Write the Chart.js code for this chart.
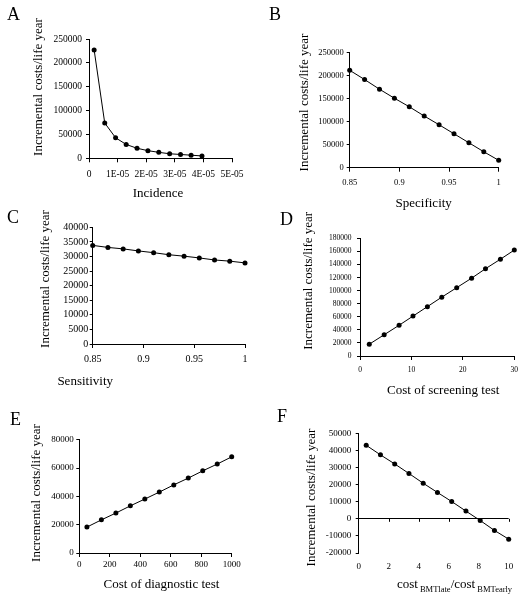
<!DOCTYPE html>
<html>
<head>
<meta charset="utf-8">
<script src="https://cdn.jsdelivr.net/npm/chart.js@4.4.1/dist/chart.umd.min.js"></script>
<style>
  body { margin: 0; background: #fff; }
  #wrap { position: relative; width: 525px; height: 600px; }
  canvas { position: absolute; }
</style>
</head>
<body>
<div id="wrap">
  <canvas id="panelA" width="262" height="200" style="left:0;top:0"></canvas>
  <canvas id="panelB" width="263" height="215" style="left:262px;top:0"></canvas>
  <canvas id="panelC" width="262" height="200" style="left:0;top:200px"></canvas>
  <canvas id="panelD" width="263" height="200" style="left:262px;top:200px"></canvas>
  <canvas id="panelE" width="262" height="200" style="left:0;top:400px"></canvas>
  <canvas id="panelF" width="263" height="200" style="left:262px;top:400px"></canvas>
</div>
<script>
// A - incidence
const incidence = [0.18e-5, 0.55e-5, 0.93e-5, 1.3e-5, 1.68e-5, 2.06e-5, 2.44e-5, 2.82e-5, 3.2e-5, 3.57e-5, 3.95e-5];
const incidenceCost = [227000, 74000, 43000, 29000, 21000, 16000, 12500, 9500, 8000, 6500, 5000];
const incidenceTicks = ["0", "1E-05", "2E-05", "3E-05", "4E-05", "5E-05"];

// B - specificity
const specificity = [0.85, 0.865, 0.88, 0.895, 0.91, 0.925, 0.94, 0.955, 0.97, 0.985, 1];
const specificityCost = [211000, 191000, 170000, 150500, 132000, 112000, 93000, 73500, 54000, 34500, 16000];

// C - sensitivity
const sensitivity = [0.85, 0.865, 0.88, 0.895, 0.91, 0.925, 0.94, 0.955, 0.97, 0.985, 1];
const sensitivityCost = [33800, 33100, 32600, 31900, 31300, 30600, 30100, 29500, 28800, 28400, 27800];
const fractionTicks = ["0.85", "0.9", "0.95", "1"];

// D - cost of screening test
const screeningCost = [1.8, 4.7, 7.6, 10.3, 13.1, 15.9, 18.8, 21.7, 24.4, 27.3, 30];
const screeningIcer = [18000, 32500, 47000, 61000, 75500, 90000, 104500, 119000, 133500, 148000, 162000];

// E - cost of diagnostic test
const diagnosticCost = [50, 145, 240, 335, 430, 525, 620, 715, 810, 905, 1000];
const diagnosticIcer = [18300, 23400, 28200, 33300, 38100, 43000, 48100, 52900, 58000, 62800, 67900];

// F - cost ratio BMT late / early
const bmtRatio = [0.5, 1.45, 2.4, 3.35, 4.3, 5.25, 6.2, 7.15, 8.1, 9.05, 10];
const bmtIcer = [43000, 37400, 32100, 26500, 20800, 15400, 10100, 4500, -1000, -6800, -11900];

const FONT = "'Liberation Serif', 'Times New Roman', serif";
const Y_TITLE = "Incremental costs/life year";

Chart.defaults.font.family = FONT;
Chart.defaults.color = "#000";

// letters, axis titles and the little ticks on the zero line of F
const panelText = {
  id: "panelText",
  afterDraw: function (chart, args, opts) {
    const ctx = chart.ctx;
    ctx.save();
    ctx.fillStyle = "#000";
    ctx.textAlign = "left";
    ctx.textBaseline = "alphabetic";
    ctx.font = "18px " + FONT;
    ctx.fillText(opts.letter, opts.letterX, opts.letterY);

    ctx.font = "13px " + FONT;
    ctx.textAlign = "center";
    ctx.textBaseline = "middle";
    ctx.save();
    ctx.translate(opts.yTitleX, opts.yTitleY);
    ctx.rotate(-Math.PI / 2);
    ctx.fillText(Y_TITLE, 0, 0);
    ctx.restore();

    if (Array.isArray(opts.xTitle)) {
      // text with subscripts
      let total = 0;
      opts.xTitle.forEach(function (p) {
        ctx.font = (p.sub ? "8.5px " : "13px ") + FONT;
        p.w = ctx.measureText(p.t).width;
        total += p.w;
      });
      let x = opts.xTitleX - total / 2;
      ctx.textAlign = "left";
      opts.xTitle.forEach(function (p) {
        ctx.font = (p.sub ? "8.5px " : "13px ") + FONT;
        ctx.fillText(p.t, x, opts.xTitleY + (p.sub ? 5 : 0));
        x += p.w;
      });
    } else {
      ctx.fillText(opts.xTitle, opts.xTitleX, opts.xTitleY);
    }

    if (opts.zeroTicks) {
      const xs = chart.scales.x, ys = chart.scales.y;
      const y0 = ys.getPixelForValue(0);
      ctx.strokeStyle = "#000";
      ctx.lineWidth = 1;
      xs.ticks.forEach(function (t) {
        if (t.value === 0) return;
        const px = Math.round(xs.getPixelForValue(t.value)) + 0.5;
        ctx.beginPath();
        ctx.moveTo(px, y0);
        ctx.lineTo(px, y0 + 3);
        ctx.stroke();
      });
    }
    ctx.restore();
  },
};

function makePanel(id, xs, ys, xAxis, yAxis, box, text) {
  const canvas = document.getElementById(id);
  const W = canvas.width, H = canvas.height;
  const zeroLine = yAxis.min < 0;
  return new Chart(canvas, {
    type: "line",
    data: {
      datasets: [{
        data: xs.map(function (x, i) { return { x: x, y: ys[i] }; }),
        borderColor: "#000",
        borderWidth: 1,
        backgroundColor: "#000",
        pointRadius: 2.5,
        pointBorderWidth: 0,
        pointBackgroundColor: "#000",
        tension: 0,
        clip: false,
      }],
    },
    options: {
      responsive: false,
      animation: false,
      events: [],
      layout: { padding: { left: 0, top: box.top, right: W - box.right, bottom: 0 } },
      plugins: { legend: { display: false }, tooltip: { enabled: false }, panelText: text },
      scales: {
        x: {
          type: "linear",
          min: xAxis.min,
          max: xAxis.max,
          ticks: {
            stepSize: xAxis.step,
            autoSkip: false,
            maxRotation: 0,
            padding: xAxis.pad,
            font: { size: xAxis.font },
            callback: function (v, i) { return xAxis.labels[i]; },
          },
          grid: zeroLine
            ? { display: false, drawTicks: false }
            : { drawOnChartArea: false, color: "#000", tickLength: 4 },
          border: { display: !zeroLine, color: "#000" },
          afterFit: function (s) { s.height = H - box.bottom; },
        },
        y: {
          min: yAxis.min,
          max: yAxis.max,
          ticks: {
            stepSize: yAxis.step,
            autoSkip: false,
            padding: yAxis.pad,
            font: { size: yAxis.font },
            callback: function (v) { return String(v); },
          },
          grid: {
            drawOnChartArea: zeroLine,
            color: function (c) { return c.tick && c.tick.value === 0 ? "#000" : "rgba(0,0,0,0)"; },
            tickColor: "#000",
            tickLength: 3,
          },
          border: { color: "#000" },
          afterFit: function (s) { s.width = box.left; },
        },
      },
    },
    plugins: [panelText],
  });
}

makePanel("panelA", incidence, incidenceCost,
  { min: 0, max: 5e-5, step: 1e-5, labels: incidenceTicks, font: 9.5, pad: 6 },
  { min: 0, max: 250000, step: 50000, font: 9.5, pad: 4 },
  { left: 89, right: 232, top: 39, bottom: 158.3 },
  { letter: "A", letterX: 7, letterY: 20, yTitleX: 39, yTitleY: 87, xTitle: "Incidence", xTitleX: 158, xTitleY: 194 });

makePanel("panelB", specificity, specificityCost,
  { min: 0.85, max: 1, step: 0.05, labels: fractionTicks, font: 8.5, pad: 5.7 },
  { min: 0, max: 250000, step: 50000, font: 8.5, pad: 3 },
  { left: 87.7, right: 236.7, top: 52.3, bottom: 167.7 },
  { letter: "B", letterX: 7, letterY: 20, yTitleX: 42.7, yTitleY: 102.5, xTitle: "Specificity", xTitleX: 161.7, xTitleY: 204 });

makePanel("panelC", sensitivity, sensitivityCost,
  { min: 0.85, max: 1, step: 0.05, labels: fractionTicks, font: 10, pad: 5 },
  { min: 0, max: 40000, step: 5000, font: 10, pad: 1.5 },
  { left: 92.7, right: 245, top: 27.3, bottom: 144 },
  { letter: "C", letterX: 7, letterY: 23, yTitleX: 46, yTitleY: 79, xTitle: "Sensitivity", xTitleX: 85.2, xTitleY: 181.7 });

makePanel("panelD", screeningCost, screeningIcer,
  { min: 0, max: 30, step: 10, labels: ["0", "10", "20", "30"], font: 7.5, pad: 6 },
  { min: 0, max: 180000, step: 20000, font: 7.5, pad: 5.5 },
  { left: 98, right: 252.3, top: 38.3, bottom: 156 },
  { letter: "D", letterX: 18, letterY: 25, yTitleX: 46.7, yTitleY: 80.8, xTitle: "Cost of screening test", xTitleX: 181.2, xTitleY: 190.7 });

makePanel("panelE", diagnosticCost, diagnosticIcer,
  { min: 0, max: 1000, step: 200, labels: ["0", "200", "400", "600", "800", "1000"], font: 9, pad: 2.5 },
  { min: 0, max: 80000, step: 20000, font: 9, pad: 2.5 },
  { left: 79.3, right: 231.7, top: 39.7, bottom: 153 },
  { letter: "E", letterX: 10, letterY: 25, yTitleX: 36.7, yTitleY: 93, xTitle: "Cost of diagnostic test", xTitleX: 161.5, xTitleY: 185 });

makePanel("panelF", bmtRatio, bmtIcer,
  { min: 0, max: 10, step: 2, labels: ["0", "2", "4", "6", "8", "10"], font: 9, pad: 8 },
  { min: -20000, max: 50000, step: 10000, font: 9, pad: 4.5 },
  { left: 96.7, right: 246.7, top: 33.3, bottom: 153 },
  { letter: "F", letterX: 15, letterY: 22, yTitleX: 50, yTitleY: 97.5,
    xTitle: [{ t: "cost", sub: false }, { t: " BMTlate", sub: true }, { t: "/cost", sub: false }, { t: " BMTearly", sub: true }],
    xTitleX: 192.5, xTitleY: 185, zeroTicks: true });
</script>
</body>
</html>
